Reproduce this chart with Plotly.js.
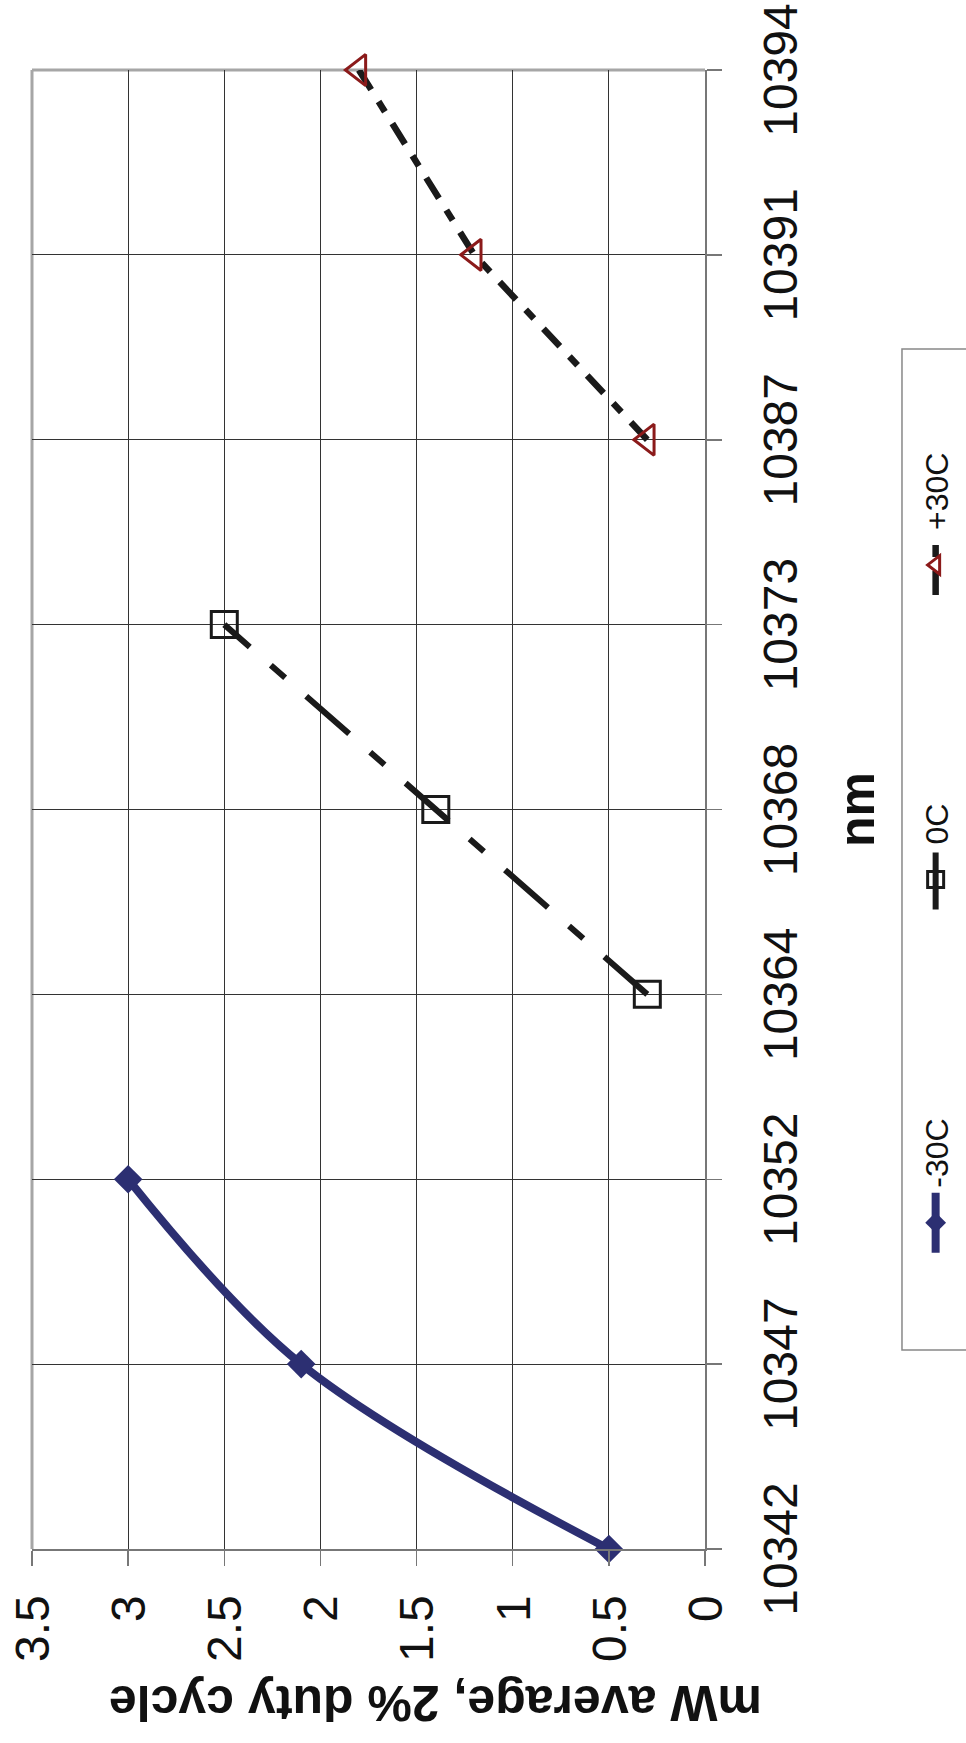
<!DOCTYPE html>
<html>
<head>
<meta charset="utf-8">
<script src="https://cdn.plot.ly/plotly-3.0.1.min.js"></script>
<style>
  html, body { margin:0; padding:0; overflow:hidden; background:#fff; width:966px; height:1743px; }
  #wrap { position:absolute; left:0; top:0; width:1743px; height:1000px;
          transform-origin:0 0; transform:translate(0px,1743px) rotate(-90deg); }
</style>
</head>
<body>
<div id="wrap"></div>
<script>
// Category (wavelength, nm) tick labels
const categories = ['10342','10347','10352','10364','10368','10373','10387','10391','10394'];
// Series
const seriesNames = ['-30C', '0C', '+30C'];
const catsMinus30 = ['10342','10347','10352'];
const valsMinus30 = [0.5, 2.1, 3.0];
const catsZero = ['10364','10368','10373'];
const valsZero = [0.3, 1.4, 2.5];
const catsPlus30 = ['10387','10391','10394'];
const valsPlus30 = [0.3, 1.2, 1.8];
// Value axis ticks
const valueTicks = [0, 0.5, 1, 1.5, 2, 2.5, 3, 3.5];

const font = 'Liberation Sans, Arial, sans-serif';
const navy = '#2C2F72';
const ink = '#1a1a1a';
const red = '#8B1A1A';

const traces = [
  { x: catsMinus30, y: valsMinus30, name: seriesNames[0], type: 'scatter', mode: 'lines+markers',
    legend: 'legend', cliponaxis: false,
    line: { color: navy, width: 8, shape: 'spline', smoothing: 1 },
    marker: { symbol: 'diamond', size: 22, color: navy } },
  { x: catsZero, y: valsZero, name: seriesNames[1], type: 'scatter', mode: 'lines+markers',
    legend: 'legend2', cliponaxis: false,
    line: { color: ink, width: 6, dash: '57px,28px,19px,28px' },
    marker: { symbol: 'square-open', size: 26, color: ink, line: { width: 3 } } },
  { x: catsPlus30, y: valsPlus30, name: seriesNames[2], type: 'scatter', mode: 'lines+markers',
    legend: 'legend3', cliponaxis: false,
    line: { color: ink, width: 6.5, dash: '24px,14px,12px,14px' },
    marker: { symbol: 'triangle-up-open', size: 27, color: red, line: { width: 3 } } }
];

function legendAt(xp) {
  return { orientation: 'h', x: xp, xanchor: 'left', y: -0.343, yanchor: 'middle',
           font: { family: 'Liberation Sans Narrow, Liberation Sans, Arial', size: 32, color: '#111' },
           bgcolor: 'rgba(0,0,0,0)', borderwidth: 0, itemwidth: 60 };
}

const layout = {
  width: 1743, height: 1000,
  margin: { l: 194, r: 70, t: 32, b: 295 },
  paper_bgcolor: '#fff', plot_bgcolor: '#fff',
  font: { family: font, color: '#111' },
  showlegend: true,
  legend: legendAt(0.197),
  legend2: legendAt(0.429),
  legend3: legendAt(0.6417),
  xaxis: {
    type: 'category', categoryorder: 'array', categoryarray: categories,
    range: [0, categories.length - 1], tickvals: categories, ticktext: categories,
    tickangle: 0, tickfont: { family: font, size: 48, color: '#111' },
    showgrid: true, gridcolor: '#333', gridwidth: 1.2,
    showline: true, linecolor: '#777', linewidth: 1.6,
    ticks: 'outside', ticklen: 15, tickcolor: '#777', tickwidth: 1.5,
    ticklabelstandoff: 18, zeroline: false, fixedrange: true
  },
  yaxis: {
    range: [0, 3.5], tickvals: valueTicks, ticktext: valueTicks.map(String),
    tickfont: { family: font, size: 48, color: '#111' },
    showgrid: true, gridcolor: '#333', gridwidth: 1.2,
    showline: true, linecolor: '#777', linewidth: 1.6,
    ticks: 'outside', ticklen: 15, tickcolor: '#777', tickwidth: 1.5,
    ticklabelstandoff: 20, zeroline: false, fixedrange: true
  },
  shapes: [
    { type: 'line', xref: 'paper', yref: 'paper', x0: 0, x1: 1, y0: 1, y1: 1, layer: 'between',
      line: { color: '#a6a6a6', width: 3 } },
    { type: 'line', xref: 'paper', yref: 'paper', x0: 1, x1: 1, y0: 0, y1: 1, layer: 'between',
      line: { color: '#a6a6a6', width: 3 } },
    { type: 'rect', xref: 'paper', yref: 'paper', x0: 0.1345, x1: 0.8114, y0: -0.2927, y1: -0.46,
      line: { color: '#888', width: 1.5 }, fillcolor: 'rgba(0,0,0,0)' }
  ],
  annotations: [
    { text: '<b>nm</b>', xref: 'paper', yref: 'paper', x: 0.5, y: -0.226, xanchor: 'center', yanchor: 'middle',
      showarrow: false, font: { family: font, size: 50, color: '#111' } },
    { text: '<b>mW average, 2% duty cycle</b>', xref: 'paper', yref: 'paper', x: -0.104, y: 0.4,
      xanchor: 'center', yanchor: 'middle', textangle: -90,
      showarrow: false, font: { family: font, size: 50, color: '#111' } }
  ]
};

Plotly.newPlot('wrap', traces, layout, { displayModeBar: false, staticPlot: true });
</script>
</body>
</html>
